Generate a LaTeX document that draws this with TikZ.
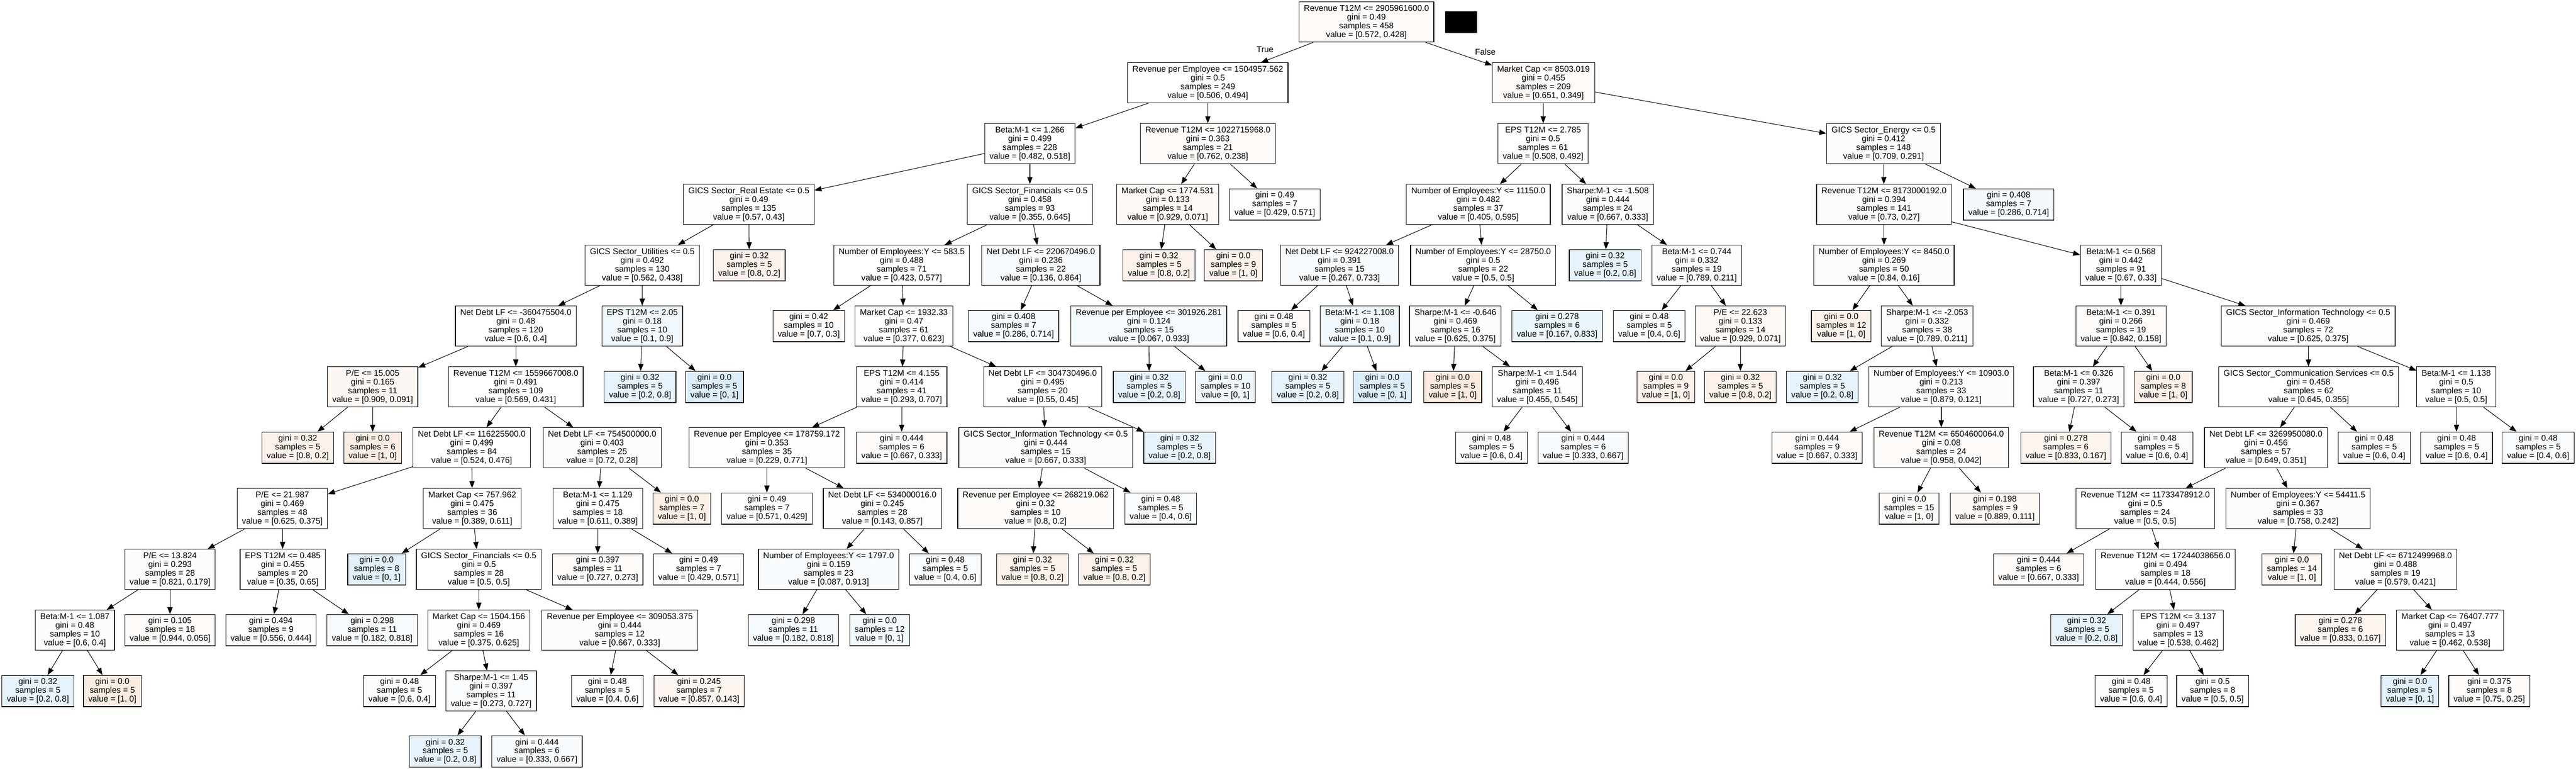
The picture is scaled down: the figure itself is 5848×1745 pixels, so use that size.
\documentclass[tikz,border=0pt]{standalone}
\usepackage{fontspec}
\setmainfont{Liberation Sans}
\usepackage{xcolor}
\usetikzlibrary{arrows.meta}
\definecolor{lo}{RGB}{229,129,57}
\definecolor{lb}{RGB}{57,157,229}
\tikzset{
  box/.style={draw, line width=0.4pt, align=center, inner xsep=0.11cm, inner ysep=0pt,
    font=\fontsize{5.4}{5.64}\selectfont},
  split/.style={box, minimum height=0.91cm},
  leaf/.style={box, minimum height=0.71cm},
  edge/.style={-{Triangle[length=0.16cm,width=0.12cm]}, line width=0.35pt},
}
\begin{document}
\begin{tikzpicture}[x=0.01cm, y=-0.01cm]
\useasboundingbox (0,0) rectangle (5848,1745);

% rank 0 and 1
\node[split, fill=lo!3] (n0) at (3102,50) {Revenue T12M <= 2905961600.0\\gini = 0.49\\samples = 458\\value = [0.572, 0.428]};
\node[fill=black, minimum width=0.73cm, minimum height=0.49cm, inner sep=0pt] (mask) at (3317,50) {};
\node[split] (n1) at (2742,188) {Revenue per Employee <= 1504957.562\\gini = 0.5\\samples = 249\\value = [0.506, 0.494]};
\node[split, fill=lo!4] (n2) at (3504,188) {Market Cap <= 8503.019\\gini = 0.455\\samples = 209\\value = [0.651, 0.349]};

% rank 2
\node[split] (n3) at (2338,326) {Beta:M-1 <= 1.266\\gini = 0.499\\samples = 228\\value = [0.482, 0.518]};
\node[split, fill=lo!3] (n4) at (2742,326) {Revenue T12M <= 1022715968.0\\gini = 0.363\\samples = 21\\value = [0.762, 0.238]};
\node[split] (n5) at (3503,326) {EPS T12M <= 2.785\\gini = 0.5\\samples = 61\\value = [0.508, 0.492]};
\node[split, fill=lo!2] (n6) at (4276,326) {GICS Sector\_Energy <= 0.5\\gini = 0.412\\samples = 148\\value = [0.709, 0.291]};

% rank 3
\node[split, fill=lo!1] (n7) at (1700,464) {GICS Sector\_Real Estate <= 0.5\\gini = 0.49\\samples = 135\\value = [0.57, 0.43]};
\node[split] (n9) at (2338,464) {GICS Sector\_Financials <= 0.5\\gini = 0.458\\samples = 93\\value = [0.355, 0.645]};
\node[split, fill=lo!5] (n10) at (2651,464) {Market Cap <= 1774.531\\gini = 0.133\\samples = 14\\value = [0.929, 0.071]};
\node[leaf, fill=lb!2] (n11) at (2894,464) {gini = 0.49\\samples = 7\\value = [0.429, 0.571]};
\node[split] (n12) at (3356,464) {Number of Employees:Y <= 11150.0\\gini = 0.482\\samples = 37\\value = [0.405, 0.595]};
\node[split, fill=lo!2] (n13) at (3650,464) {Sharpe:M-1 <= -1.508\\gini = 0.444\\samples = 24\\value = [0.667, 0.333]};
\node[split, fill=lo!2] (n14) at (4277,464) {Revenue T12M <= 8173000192.0\\gini = 0.394\\samples = 141\\value = [0.73, 0.27]};
\node[leaf, fill=lb!6] (n15) at (4560,464) {gini = 0.408\\samples = 7\\value = [0.286, 0.714]};

% rank 4
\node[split] (n16) at (1458,602) {GICS Sector\_Utilities <= 0.5\\gini = 0.492\\samples = 130\\value = [0.562, 0.438]};
\node[leaf, fill=lo!10] (n8) at (1701,602) {gini = 0.32\\samples = 5\\value = [0.8, 0.2]};
\node[split] (n17) at (2047,602) {Number of Employees:Y <= 583.5\\gini = 0.488\\samples = 71\\value = [0.423, 0.577]};
\node[split, fill=lb!4] (n18) at (2363,602) {Net Debt LF <= 220670496.0\\gini = 0.236\\samples = 22\\value = [0.136, 0.864]};
\node[leaf, fill=lo!10] (n19) at (2631,602) {gini = 0.32\\samples = 5\\value = [0.8, 0.2]};
\node[leaf, fill=lo!10] (n20) at (2800,602) {gini = 0.0\\samples = 9\\value = [1, 0]};
\node[split, fill=lb!4] (n21) at (3041,602) {Net Debt LF <= 924227008.0\\gini = 0.391\\samples = 15\\value = [0.267, 0.733]};
\node[split] (n22) at (3367,602) {Number of Employees:Y <= 28750.0\\gini = 0.5\\samples = 22\\value = [0.5, 0.5]};
\node[leaf, fill=lb!12] (n23) at (3644,602) {gini = 0.32\\samples = 5\\value = [0.2, 0.8]};
\node[split, fill=lo!2] (n24) at (3852,602) {Beta:M-1 <= 0.744\\gini = 0.332\\samples = 19\\value = [0.789, 0.211]};
\node[split, fill=lo!2] (n25) at (4277,602) {Number of Employees:Y <= 8450.0\\gini = 0.269\\samples = 50\\value = [0.84, 0.16]};
\node[split, fill=lo!1] (n26) at (4815,602) {Beta:M-1 <= 0.568\\gini = 0.442\\samples = 91\\value = [0.67, 0.33]};

% rank 5
\node[split] (n27) at (1171,740) {Net Debt LF <= -360475504.0\\gini = 0.48\\samples = 120\\value = [0.6, 0.4]};
\node[split, fill=lb!7] (n28) at (1458,740) {EPS T12M <= 2.05\\gini = 0.18\\samples = 10\\value = [0.1, 0.9]};
\node[leaf, fill=lo!3] (n29) at (1836,740) {gini = 0.42\\samples = 10\\value = [0.7, 0.3]};
\node[split] (n30) at (2052,740) {Market Cap <= 1932.33\\gini = 0.47\\samples = 61\\value = [0.377, 0.623]};
\node[leaf, fill=lb!5] (n31) at (2301,740) {gini = 0.408\\samples = 7\\value = [0.286, 0.714]};
\node[split, fill=lb!5] (n32) at (2608,740) {Revenue per Employee <= 301926.281\\gini = 0.124\\samples = 15\\value = [0.067, 0.933]};
\node[leaf, fill=lo!3] (n33) at (2892,740) {gini = 0.48\\samples = 5\\value = [0.6, 0.4]};
\node[split, fill=lb!7] (n34) at (3087,740) {Beta:M-1 <= 1.108\\gini = 0.18\\samples = 10\\value = [0.1, 0.9]};
\node[split, fill=lo!2] (n35) at (3304,740) {Sharpe:M-1 <= -0.646\\gini = 0.469\\samples = 16\\value = [0.625, 0.375]};
\node[leaf, fill=lb!10] (n36) at (3535,740) {gini = 0.278\\samples = 6\\value = [0.167, 0.833]};
\node[leaf, fill=lb!3] (n37) at (3744,740) {gini = 0.48\\samples = 5\\value = [0.4, 0.6]};
\node[split, fill=lo!5] (n38) at (3951,740) {P/E <= 22.623\\gini = 0.133\\samples = 14\\value = [0.929, 0.071]};
\node[leaf, fill=lo!10] (n39) at (4180,740) {gini = 0.0\\samples = 12\\value = [1, 0]};
\node[split, fill=lo!2] (n40) at (4375,740) {Sharpe:M-1 <= -2.053\\gini = 0.332\\samples = 38\\value = [0.789, 0.211]};
\node[split, fill=lo!3] (n41) at (4815,740) {Beta:M-1 <= 0.391\\gini = 0.266\\samples = 19\\value = [0.842, 0.158]};
\node[split, fill=lo!1] (n42) at (5240,740) {GICS Sector\_Information Technology <= 0.5\\gini = 0.469\\samples = 72\\value = [0.625, 0.375]};

% rank 6
\node[split, fill=lo!6] (n43) at (846,878) {P/E <= 15.005\\gini = 0.165\\samples = 11\\value = [0.909, 0.091]};
\node[split] (n44) at (1171,878) {Revenue T12M <= 1559667008.0\\gini = 0.491\\samples = 109\\value = [0.569, 0.431]};
\node[leaf, fill=lb!12] (n45) at (1453,878) {gini = 0.32\\samples = 5\\value = [0.2, 0.8]};
\node[leaf, fill=lb!17] (n46) at (1622,878) {gini = 0.0\\samples = 5\\value = [0, 1]};
\node[split, fill=lb!2] (n47) at (2047,878) {EPS T12M <= 4.155\\gini = 0.414\\samples = 41\\value = [0.293, 0.707]};
\node[split] (n48) at (2367,878) {Net Debt LF <= 304730496.0\\gini = 0.495\\samples = 20\\value = [0.55, 0.45]};
\node[leaf, fill=lb!12] (n49) at (2609,878) {gini = 0.32\\samples = 5\\value = [0.2, 0.8]};
\node[leaf, fill=lb!8] (n50) at (2782,878) {gini = 0.0\\samples = 10\\value = [0, 1]};
\node[leaf, fill=lb!12] (n51) at (2969,878) {gini = 0.32\\samples = 5\\value = [0.2, 0.8]};
\node[leaf, fill=lb!17] (n52) at (3138,878) {gini = 0.0\\samples = 5\\value = [0, 1]};
\node[leaf, fill=lo!17] (n53) at (3298,878) {gini = 0.0\\samples = 5\\value = [1, 0]};
\node[split, fill=lb!1] (n54) at (3490,878) {Sharpe:M-1 <= 1.544\\gini = 0.496\\samples = 11\\value = [0.455, 0.545]};
\node[leaf, fill=lo!10] (n55) at (3782,878) {gini = 0.0\\samples = 9\\value = [1, 0]};
\node[leaf, fill=lo!10] (n56) at (3951,878) {gini = 0.32\\samples = 5\\value = [0.8, 0.2]};
\node[leaf, fill=lb!12] (n57) at (4137,878) {gini = 0.32\\samples = 5\\value = [0.2, 0.8]};
\node[split, fill=lo!2] (n58) at (4407,878) {Number of Employees:Y <= 10903.0\\gini = 0.213\\samples = 33\\value = [0.879, 0.121]};
\node[split, fill=lo!2] (n59) at (4719,878) {Beta:M-1 <= 0.326\\gini = 0.397\\samples = 11\\value = [0.727, 0.273]};
\node[leaf, fill=lo!11] (n60) at (4911,878) {gini = 0.0\\samples = 8\\value = [1, 0]};
\node[split] (n61) at (5241,878) {GICS Sector\_Communication Services <= 0.5\\gini = 0.458\\samples = 62\\value = [0.645, 0.355]};
\node[split] (n62) at (5576,878) {Beta:M-1 <= 1.138\\gini = 0.5\\samples = 10\\value = [0.5, 0.5]};

% rank 7
\node[leaf, fill=lo!10] (n63) at (676,1016) {gini = 0.32\\samples = 5\\value = [0.8, 0.2]};
\node[leaf, fill=lo!14] (n64) at (846,1016) {gini = 0.0\\samples = 6\\value = [1, 0]};
\node[split] (n65) at (1071,1016) {Net Debt LF <= 116225500.0\\gini = 0.499\\samples = 84\\value = [0.524, 0.476]};
\node[split, fill=lo!2] (n66) at (1367,1016) {Net Debt LF <= 754500000.0\\gini = 0.403\\samples = 25\\value = [0.72, 0.28]};
\node[split, fill=lb!2] (n67) at (1741,1016) {Revenue per Employee <= 178759.172\\gini = 0.353\\samples = 35\\value = [0.229, 0.771]};
\node[leaf, fill=lo!3] (n68) at (2047,1016) {gini = 0.444\\samples = 6\\value = [0.667, 0.333]};
\node[split, fill=lo!2] (n69) at (2374,1016) {GICS Sector\_Information Technology <= 0.5\\gini = 0.444\\samples = 15\\value = [0.667, 0.333]};
\node[leaf, fill=lb!12] (n70) at (2678,1016) {gini = 0.32\\samples = 5\\value = [0.2, 0.8]};
\node[leaf, fill=lo!2] (n71) at (3386,1016) {gini = 0.48\\samples = 5\\value = [0.6, 0.4]};
\node[leaf, fill=lb!4] (n72) at (3594,1016) {gini = 0.444\\samples = 6\\value = [0.333, 0.667]};
\node[leaf, fill=lo!3] (n73) at (4125,1016) {gini = 0.444\\samples = 9\\value = [0.667, 0.333]};
\node[split, fill=lo!3] (n74) at (4407,1016) {Revenue T12M <= 6504600064.0\\gini = 0.08\\samples = 24\\value = [0.958, 0.042]};
\node[leaf, fill=lo!9] (n75) at (4690,1016) {gini = 0.278\\samples = 6\\value = [0.833, 0.167]};
\node[leaf, fill=lo!2] (n76) at (4897,1016) {gini = 0.48\\samples = 5\\value = [0.6, 0.4]};
\node[split] (n77) at (5144,1016) {Net Debt LF <= 3269950080.0\\gini = 0.456\\samples = 57\\value = [0.649, 0.351]};
\node[leaf, fill=lo!2] (n78) at (5390,1016) {gini = 0.48\\samples = 5\\value = [0.6, 0.4]};
\node[leaf, fill=lo!2] (n79) at (5577,1016) {gini = 0.48\\samples = 5\\value = [0.6, 0.4]};
\node[leaf, fill=lb!3] (n80) at (5762,1016) {gini = 0.48\\samples = 5\\value = [0.4, 0.6]};

% rank 8
\node[split] (n81) at (641,1154) {P/E <= 21.987\\gini = 0.469\\samples = 48\\value = [0.625, 0.375]};
\node[split] (n82) at (1072,1154) {Market Cap <= 757.962\\gini = 0.475\\samples = 36\\value = [0.389, 0.611]};
\node[split] (n83) at (1357,1154) {Beta:M-1 <= 1.129\\gini = 0.475\\samples = 18\\value = [0.611, 0.389]};
\node[leaf, fill=lo!13] (n84) at (1548,1154) {gini = 0.0\\samples = 7\\value = [1, 0]};
\node[leaf, fill=lo!1] (n85) at (1741,1154) {gini = 0.49\\samples = 7\\value = [0.571, 0.429]};
\node[split, fill=lb!2] (n86) at (2003,1154) {Net Debt LF <= 534000016.0\\gini = 0.245\\samples = 28\\value = [0.143, 0.857]};
\node[split, fill=lo!4] (n87) at (2351,1154) {Revenue per Employee <= 268219.062\\gini = 0.32\\samples = 10\\value = [0.8, 0.2]};
\node[leaf, fill=lb!3] (n88) at (2635,1154) {gini = 0.48\\samples = 5\\value = [0.4, 0.6]};
\node[leaf, fill=lo!4] (n89) at (4334,1154) {gini = 0.0\\samples = 15\\value = [1, 0]};
\node[leaf, fill=lo!5] (n90) at (4529,1154) {gini = 0.198\\samples = 9\\value = [0.889, 0.111]};
\node[split] (n91) at (4870,1154) {Revenue T12M <= 11733478912.0\\gini = 0.5\\samples = 24\\value = [0.5, 0.5]};
\node[split, fill=lo!2] (n92) at (5217,1154) {Number of Employees:Y <= 54411.5\\gini = 0.367\\samples = 33\\value = [0.758, 0.242]};

% rank 9
\node[split, fill=lo!2] (n93) at (386,1292) {P/E <= 13.824\\gini = 0.293\\samples = 28\\value = [0.821, 0.179]};
\node[split, fill=lb!1] (n94) at (642,1292) {EPS T12M <= 0.485\\gini = 0.455\\samples = 20\\value = [0.35, 0.65]};
\node[leaf, fill=lb!15] (n95) at (855,1292) {gini = 0.0\\samples = 8\\value = [0, 1]};
\node[split] (n96) at (1087,1292) {GICS Sector\_Financials <= 0.5\\gini = 0.5\\samples = 28\\value = [0.5, 0.5]};
\node[leaf, fill=lo!3] (n97) at (1357,1292) {gini = 0.397\\samples = 11\\value = [0.727, 0.273]};
\node[leaf, fill=lb!2] (n98) at (1586,1292) {gini = 0.49\\samples = 7\\value = [0.429, 0.571]};
\node[split, fill=lb!4] (n99) at (1881,1292) {Number of Employees:Y <= 1797.0\\gini = 0.159\\samples = 23\\value = [0.087, 0.913]};
\node[leaf, fill=lb!3] (n100) at (2146,1292) {gini = 0.48\\samples = 5\\value = [0.4, 0.6]};
\node[leaf, fill=lo!10] (n101) at (2344,1292) {gini = 0.32\\samples = 5\\value = [0.8, 0.2]};
\node[leaf, fill=lo!10] (n102) at (2530,1292) {gini = 0.32\\samples = 5\\value = [0.8, 0.2]};
\node[leaf, fill=lo!3] (n103) at (4628,1292) {gini = 0.444\\samples = 6\\value = [0.667, 0.333]};
\node[split] (n104) at (4916,1292) {Revenue T12M <= 17244038656.0\\gini = 0.494\\samples = 18\\value = [0.444, 0.556]};
\node[leaf, fill=lo!5] (n105) at (5203,1292) {gini = 0.0\\samples = 14\\value = [1, 0]};
\node[split, fill=lo!1] (n106) at (5438,1292) {Net Debt LF <= 6712499968.0\\gini = 0.488\\samples = 19\\value = [0.579, 0.421]};

% rank 10
\node[split, fill=lo!2] (n107) at (170,1430) {Beta:M-1 <= 1.087\\gini = 0.48\\samples = 10\\value = [0.6, 0.4]};
\node[leaf, fill=lo!3] (n108) at (386,1430) {gini = 0.105\\samples = 18\\value = [0.944, 0.056]};
\node[leaf, fill=lo!1] (n109) at (615,1430) {gini = 0.494\\samples = 9\\value = [0.556, 0.444]};
\node[leaf, fill=lb!4] (n110) at (845,1430) {gini = 0.298\\samples = 11\\value = [0.182, 0.818]};
\node[split, fill=lb!2] (n111) at (1087,1430) {Market Cap <= 1504.156\\gini = 0.469\\samples = 16\\value = [0.375, 0.625]};
\node[split, fill=lo!2] (n112) at (1407,1430) {Revenue per Employee <= 309053.375\\gini = 0.444\\samples = 12\\value = [0.667, 0.333]};
\node[leaf, fill=lb!5] (n113) at (1801,1430) {gini = 0.298\\samples = 11\\value = [0.182, 0.818]};
\node[leaf, fill=lb!6] (n114) at (1997,1430) {gini = 0.0\\samples = 12\\value = [0, 1]};
\node[leaf, fill=lb!12] (n115) at (4737,1430) {gini = 0.32\\samples = 5\\value = [0.2, 0.8]};
\node[split] (n116) at (4945,1430) {EPS T12M <= 3.137\\gini = 0.497\\samples = 13\\value = [0.538, 0.462]};
\node[leaf, fill=lo!8] (n117) at (5313,1430) {gini = 0.278\\samples = 6\\value = [0.833, 0.167]};
\node[split] (n118) at (5562,1430) {Market Cap <= 76407.777\\gini = 0.497\\samples = 13\\value = [0.462, 0.538]};

% rank 11 and 12
\node[leaf, fill=lb!12] (n119) at (86,1568) {gini = 0.32\\samples = 5\\value = [0.2, 0.8]};
\node[leaf, fill=lo!15] (n120) at (255,1568) {gini = 0.0\\samples = 5\\value = [1, 0]};
\node[leaf, fill=lo!2] (n121) at (907,1568) {gini = 0.48\\samples = 5\\value = [0.6, 0.4]};
\node[split, fill=lb!3] (n122) at (1115,1568) {Sharpe:M-1 <= 1.45\\gini = 0.397\\samples = 11\\value = [0.273, 0.727]};
\node[leaf, fill=lb!2] (n123) at (1379,1568) {gini = 0.48\\samples = 5\\value = [0.4, 0.6]};
\node[leaf, fill=lo!8] (n124) at (1587,1568) {gini = 0.245\\samples = 7\\value = [0.857, 0.143]};
\node[leaf, fill=lo!2] (n125) at (4838,1568) {gini = 0.48\\samples = 5\\value = [0.6, 0.4]};
\node[leaf] (n126) at (5023,1568) {gini = 0.5\\samples = 8\\value = [0.5, 0.5]};
\node[leaf, fill=lb!15] (n127) at (5471,1568) {gini = 0.0\\samples = 5\\value = [0, 1]};
\node[leaf, fill=lo!3] (n128) at (5651,1568) {gini = 0.375\\samples = 8\\value = [0.75, 0.25]};
\node[leaf, fill=lb!12] (n129) at (1011,1705) {gini = 0.32\\samples = 5\\value = [0.2, 0.8]};
\node[leaf, fill=lb!4] (n130) at (1219,1705) {gini = 0.444\\samples = 6\\value = [0.333, 0.667]};

\foreach \a/\b in {n0/n1, n0/n2, n1/n3, n1/n4, n2/n5, n2/n6, n3/n7, n3/n9, n4/n10, n4/n11,
  n5/n12, n5/n13, n6/n14, n6/n15, n7/n16, n7/n8, n9/n17, n9/n18, n10/n19, n10/n20,
  n12/n21, n12/n22, n13/n23, n13/n24, n14/n25, n14/n26, n16/n27, n16/n28, n17/n29, n17/n30,
  n18/n31, n18/n32, n21/n33, n21/n34, n22/n35, n22/n36, n24/n37, n24/n38, n25/n39, n25/n40,
  n26/n41, n26/n42, n27/n43, n27/n44, n28/n45, n28/n46, n30/n47, n30/n48, n32/n49, n32/n50,
  n34/n51, n34/n52, n35/n53, n35/n54, n38/n55, n38/n56, n40/n57, n40/n58, n41/n59, n41/n60,
  n42/n61, n42/n62, n43/n63, n43/n64, n44/n65, n44/n66, n47/n67, n47/n68, n48/n69, n48/n70,
  n54/n71, n54/n72, n58/n73, n58/n74, n59/n75, n59/n76, n61/n77, n61/n78, n62/n79, n62/n80,
  n65/n81, n65/n82, n66/n83, n66/n84, n67/n85, n67/n86, n69/n87, n69/n88, n74/n89, n74/n90,
  n77/n91, n77/n92, n81/n93, n81/n94, n82/n95, n82/n96, n83/n97, n83/n98, n86/n99, n86/n100,
  n87/n101, n87/n102, n91/n103, n91/n104, n92/n105, n92/n106, n93/n107, n93/n108, n94/n109, n94/n110,
  n96/n111, n96/n112, n99/n113, n99/n114, n104/n115, n104/n116, n106/n117, n106/n118,
  n107/n119, n107/n120, n111/n121, n111/n122, n112/n123, n112/n124, n116/n125, n116/n126,
  n118/n127, n118/n128, n122/n129, n122/n130}
  \draw[edge] (\a) -- (\b);

\node[font=\fontsize{5.4}{5.64}\selectfont] (ltrue) at (2872,112) {True};
\node[font=\fontsize{5.4}{5.64}\selectfont] (lfalse) at (3372,118) {False};
\end{tikzpicture}
\end{document}
